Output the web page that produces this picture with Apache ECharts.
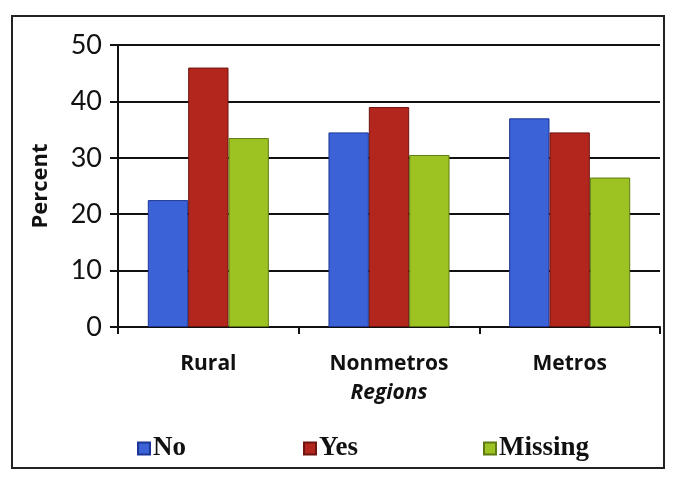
<!DOCTYPE html>
<html>
<head>
<meta charset="utf-8">
<script src="https://cdn.jsdelivr.net/npm/echarts@6/dist/echarts.min.js"></script>
<style>html,body{margin:0;padding:0;background:#fff;}#c{width:686px;height:483px;}</style>
</head>
<body>
<div id="c"></div>
<script>
const categories = ['Rural', 'Nonmetros', 'Metros'];
const seriesNames = ['No', 'Yes', 'Missing'];
const noValues = [22.5, 34.5, 37];
const yesValues = [46, 39, 34.5];
const missingValues = [33.5, 30.5, 26.5];
const yTicks = [0, 10, 20, 30, 40, 50];

const colors = ['#3b62d6', '#b3261e', '#9dc322'];
const borders = ['#1d3596', '#6e1410', '#5f7a12'];
const values = [noValues, yesValues, missingValues];

const chart = echarts.init(document.getElementById('c'));
const legendLefts = [132, 298, 478];
chart.setOption({
  animation: false,
  backgroundColor: '#ffffff',
  graphic: [{
    type: 'rect', shape: {x: 12, y: 16, width: 652, height: 452},
    style: {fill: 'none', stroke: '#222', lineWidth: 2}
  }],
  legend: seriesNames.map((n, i) => ({
    data: [n], left: legendLefts[i], top: 430, itemWidth: 12, itemHeight: 12, icon: 'rect', itemGap: 4,
    textStyle: {fontFamily: 'Liberation Serif', fontWeight: 'bold', fontSize: 27, color: '#111', padding: [0, 0, 0, -2]}
  })),
  grid: {left: 118, right: 26, top: 45, bottom: 156},
  xAxis: {
    type: 'category', data: categories,
    axisLine: {lineStyle: {color: '#111', width: 2}},
    axisTick: {show: true, alignWithLabel: false, length: 7, lineStyle: {color: '#111', width: 2}},
    axisLabel: {margin: 27, fontFamily: 'Open Sans', fontWeight: 'bold', fontSize: 21, color: '#111'},
    name: 'Regions', nameLocation: 'middle', nameGap: 56,
    nameTextStyle: {fontFamily: 'Open Sans', fontWeight: 'bold', fontStyle: 'italic', fontSize: 21, color: '#111'}
  },
  yAxis: {
    type: 'value', min: 0, max: 50, interval: 10,
    axisLine: {show: true, lineStyle: {color: '#111', width: 2}},
    axisTick: {show: true, inside: false, length: 8, lineStyle: {color: '#111', width: 2}},
    axisLabel: {margin: 16, fontFamily: 'Lato', fontSize: 27, color: '#111',
      formatter: v => yTicks.includes(v) ? String(v) : ''},
    splitLine: {show: true, lineStyle: {color: '#111', width: 2}},
    name: 'Percent', nameLocation: 'middle', nameGap: 66, nameRotate: 90,
    nameTextStyle: {fontFamily: 'Open Sans', fontWeight: 'bold', fontSize: 22, color: '#111'}
  },
  series: seriesNames.map((n, i) => ({
    name: n, type: 'bar', data: values[i],
    barGap: '0%', barCategoryGap: '33%',
    itemStyle: {color: colors[i], borderColor: borders[i], borderWidth: 1}
  }))
});
</script>
</body>
</html>
